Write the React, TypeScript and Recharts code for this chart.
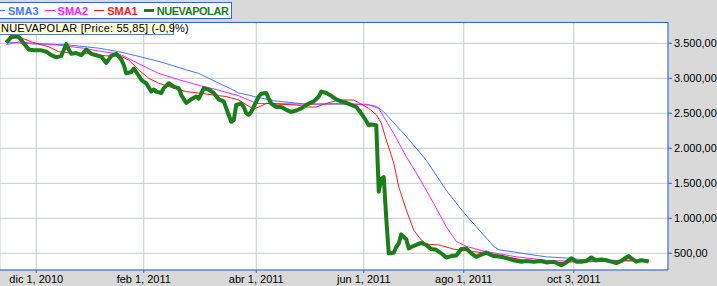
import React from 'react';
import { LineChart, Line, XAxis, YAxis, CartesianGrid } from 'recharts';

// x = trading day counted from dic 1, 2010; y = price
const NUEVAPOLAR: [number, number][] = [
  [-12, 3510], [-10, 3590], [-9, 3600], [-7, 3590], [-6, 3550], [-5, 3500], [-3, 3410], [-1, 3400],
  [2, 3400], [4, 3380], [6, 3330], [8, 3300], [10, 3320], [12, 3490], [13, 3410], [14, 3350],
  [16, 3360], [18, 3330], [20, 3410], [22, 3350], [24, 3330], [26, 3310], [28, 3220], [30, 3320],
  [32, 3350], [34, 3270], [35, 3190], [36, 3070], [38, 3090], [39, 3140], [40, 3090], [42, 2980],
  [43, 2950], [44, 2930], [46, 2810], [47, 2840], [48, 2810], [50, 2790], [51, 2860], [53, 2930],
  [55, 2880], [57, 2860], [58, 2760], [60, 2650], [62, 2700], [64, 2740], [65, 2710], [67, 2860],
  [69, 2840], [71, 2790], [73, 2700], [75, 2670], [76, 2570], [78, 2380], [79, 2400], [80, 2620],
  [82, 2640], [83, 2590], [84, 2500], [85, 2480], [86, 2520], [88, 2670], [89, 2740], [90, 2780],
  [92, 2790], [93, 2710], [94, 2640], [96, 2590], [98, 2590], [100, 2550], [102, 2520], [104, 2540],
  [106, 2570], [108, 2620], [111, 2670], [113, 2740], [114, 2810], [116, 2790], [118, 2750], [120, 2700],
  [122, 2670], [124, 2650], [126, 2620], [128, 2590], [130, 2500], [132, 2390], [133, 2330], [134, 2340],
  [136, 2330], [137, 1380], [138, 1560], [139, 1590], [140, 1000], [141, 500], [142, 500], [143, 510],
  [144, 590], [145, 640], [146, 770], [148, 700], [149, 570], [150, 590], [152, 620], [154, 650],
  [156, 620], [158, 560], [160, 550], [162, 500], [164, 440], [166, 460], [168, 470], [170, 560],
  [172, 570], [174, 500], [176, 450], [178, 480], [180, 510], [183, 460], [186, 450], [188, 430],
  [191, 400], [194, 380], [196, 390], [199, 380], [202, 390], [204, 370], [207, 380], [210, 330],
  [212, 370], [214, 430], [216, 380], [218, 380], [220, 390], [222, 440], [224, 400], [226, 410],
  [228, 400], [230, 380], [232, 360], [234, 390], [236, 440], [237, 460], [238, 430], [240, 380],
  [242, 400], [244, 390], [245, 380],
];

const SMA1: [number, number][] = [
  [-11, 3550], [-7, 3590], [-1, 3510], [5, 3450], [9, 3380], [15, 3360], [21, 3350], [28, 3320],
  [33, 3330], [37, 3260], [41, 3120], [45, 3000], [49, 2930], [55, 2860], [60, 2810], [65, 2790],
  [71, 2760], [76, 2740], [81, 2690], [85, 2600], [87, 2560], [89, 2590], [92, 2640], [97, 2630],
  [104, 2620], [108, 2590], [112, 2590], [116, 2640], [121, 2690], [127, 2690], [129, 2650], [133, 2570],
  [136, 2480], [138, 2360], [140, 2120], [143, 1790], [145, 1450], [148, 1120], [151, 830], [154, 690],
  [156, 630], [161, 620], [167, 560], [171, 540], [178, 510], [184, 480], [191, 430], [197, 390],
  [204, 360], [211, 370], [216, 380], [224, 380], [231, 390], [237, 400], [245, 400],
];

const SMA2: [number, number][] = [
  [-12, 3480], [-7, 3520], [-1, 3500], [5, 3490], [12, 3460], [19, 3430], [25, 3390], [33, 3350],
  [41, 3210], [49, 3070], [57, 2980], [65, 2900], [73, 2830], [81, 2750], [85, 2690], [88, 2640],
  [95, 2640], [108, 2630], [121, 2640], [133, 2620], [137, 2570], [139, 2450], [143, 2210], [148, 1880],
  [153, 1590], [159, 1210], [164, 880], [168, 670], [172, 600], [178, 540], [184, 500], [192, 450],
  [204, 400], [218, 380], [231, 390], [245, 390],
];

const SMA3: [number, number][] = [
  [-12, 3520], [-1, 3490], [12, 3480], [25, 3430], [33, 3380], [39, 3330], [47, 3260], [52, 3210],
  [60, 3120], [65, 3070], [73, 2930], [79, 2830], [81, 2790], [85, 2760], [87, 2740], [95, 2680],
  [108, 2630], [121, 2630], [132, 2630], [136, 2600], [139, 2520], [148, 2170], [156, 1830], [164, 1400],
  [169, 1170], [173, 1000], [176, 880], [183, 600], [185, 550], [191, 520], [196, 490], [204, 450],
  [213, 430], [221, 400], [233, 400], [245, 400],
];

const X_TICKS = [0, 43, 88, 131, 171, 215];
const X_LABELS = ['dic 1, 2010', 'feb 1, 2011', 'abr 1, 2011', 'jun 1, 2011', 'ago 1, 2011', 'oct 3, 2011'];
const Y_TICKS = [500, 1000, 1500, 2000, 2500, 3000, 3500];

const toRows = (pts: [number, number][]) => pts.map(([d, v]) => ({ d, v }));

const FONT = '"Liberation Sans", Arial, sans-serif';
const BLUE_AXIS = '#2f62e8';

function fmtPrice(v: number) {
  const s = String(v);
  const withDots = s.length > 3 ? s.slice(0, s.length - 3) + '.' + s.slice(-3) : s;
  return withDots + ',00';
}

function fmtDay(d: number) {
  const i = X_TICKS.indexOf(d);
  return i >= 0 ? X_LABELS[i] : '';
}

const legendItems = [
  { name: 'SMA3', color: '#4477ff', thick: false },
  { name: 'SMA2', color: '#ff22ff', thick: false },
  { name: 'SMA1', color: '#ff1a1a', thick: false },
  { name: 'NUEVAPOLAR', color: '#1a7f1a', thick: true },
];

export default function App() {
  return (
    <div
      style={{
        position: 'absolute',
        left: 0,
        top: 0,
        width: 717,
        height: 286,
        background: '#d9d9d9',
        fontFamily: FONT,
        overflow: 'hidden',
      }}
    >
      <LineChart width={717} height={286} margin={{ top: 22, right: 0, bottom: 0, left: 0 }}>
        <CartesianGrid stroke="#c6cbc6" fill="#ffffff" />
        <XAxis
          type="number"
          dataKey="d"
          domain={[-14.5, 252.7]}
          ticks={X_TICKS}
          tickFormatter={fmtDay}
          allowDataOverflow
          height={16}
          tickSize={3}
          tickMargin={2}
          axisLine={{ stroke: BLUE_AXIS }}
          tickLine={{ stroke: BLUE_AXIS }}
          tick={{ fontSize: 11, fill: '#000', fontFamily: FONT }}
          interval={0}
        />
        <YAxis
          type="number"
          orientation="right"
          dataKey="v"
          domain={[261.4, 3804.3]}
          ticks={Y_TICKS}
          tickFormatter={fmtPrice}
          allowDataOverflow
          width={49}
          tickSize={4}
          tickMargin={2}
          axisLine={{ stroke: BLUE_AXIS }}
          tickLine={{ stroke: BLUE_AXIS }}
          tick={{ fontSize: 11, fill: '#000', fontFamily: FONT, textAnchor: 'start' }}
          interval={0}
        />
        <Line data={toRows(SMA3)} dataKey="v" stroke="#4477ff" strokeWidth={1} dot={false} isAnimationActive={false} />
        <Line data={toRows(SMA2)} dataKey="v" stroke="#ff22ff" strokeWidth={1} dot={false} isAnimationActive={false} />
        <Line data={toRows(SMA1)} dataKey="v" stroke="#ff1a1a" strokeWidth={1} dot={false} isAnimationActive={false} />
        <Line
          data={toRows(NUEVAPOLAR)}
          dataKey="v"
          stroke="#1a7f1a"
          strokeWidth={4}
          strokeLinejoin="round"
          dot={false}
          isAnimationActive={false}
        />
      </LineChart>

      {/* plot frame top edge */}
      <div
        style={{
          position: 'absolute',
          left: 0,
          top: 22,
          width: 668,
          height: 0,
          borderTop: `1px solid ${BLUE_AXIS}`,
          pointerEvents: 'none',
        }}
      />

      {/* legend */}
      <div
        style={{
          position: 'absolute',
          left: -1,
          top: 2,
          width: 231,
          height: 15,
          background: '#ffffff',
          border: `1px solid ${BLUE_AXIS}`,
          display: 'flex',
          alignItems: 'center',
          fontSize: 11,
          fontWeight: 'bold',
        }}
      >
        {legendItems.map((it, i) => (
          <span key={it.name} style={{ display: 'flex', alignItems: 'center', marginLeft: i === 0 ? 0 : 6 }}>
            <span
              style={{
                display: 'inline-block',
                width: i === 0 ? 5 : 10,
                height: it.thick ? 3 : 1,
                background: it.color,
                marginRight: 3,
              }}
            />
            <span style={{ color: it.color, letterSpacing: it.thick ? -0.45 : 0 }}>{it.name}</span>
          </span>
        ))}
      </div>

      {/* price label */}
      <div
        style={{
          position: 'absolute',
          left: -2,
          top: 22,
          width: 172,
          height: 11,
          lineHeight: '11px',
          background: '#fffbd2',
          border: '1px solid #5a78c8',
          fontSize: 11,
          color: '#000',
          paddingLeft: 2,
          whiteSpace: 'nowrap',
          letterSpacing: 0.2,
        }}
      >
        NUEVAPOLAR [Price: 55,85] (-0,9%)
      </div>
    </div>
  );
}
